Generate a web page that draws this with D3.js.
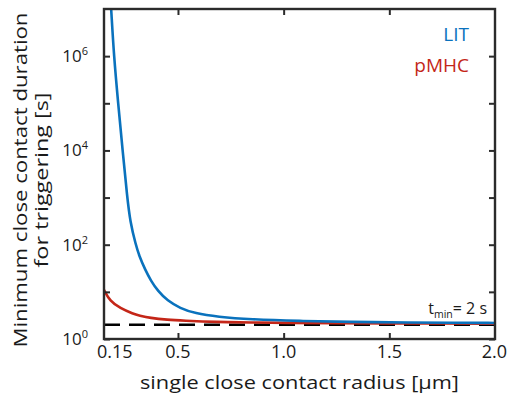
<!DOCTYPE html>
<html>
<head>
<meta charset="utf-8">
<script src="https://cdn.jsdelivr.net/npm/d3@7"></script>
<style>
  html, body { margin: 0; padding: 0; background: #fff; }
  svg text { font-family: "Open Sans", "DejaVu Sans", sans-serif; fill: #1a1a1a; }
</style>
</head>
<body>
<svg id="chart" width="512" height="413"></svg>
<script>
// Contact radius (µm) and minimum close-contact duration (s) for LIT
const radiusLIT = [0.181, 0.184, 0.197, 0.217, 0.238, 0.260, 0.2735, 0.300, 0.318, 0.344, 0.372, 0.405, 0.45, 0.51, 0.58, 0.689, 0.84, 1.077, 1.31, 1.6, 1.8, 2.0];
const durationLIT = [1.6e7, 1.0e7, 1.0e6, 1.0e5, 1.0e4, 1.0e3, 316, 100, 56, 30, 17.2, 10.4, 6.5, 4.5, 3.5, 2.95, 2.6, 2.41, 2.3, 2.24, 2.21, 2.19];

// Same quantity for pMHC
const radiusPMHC = [0.15, 0.178, 0.226, 0.289, 0.317, 0.368, 0.45, 0.524, 0.683, 0.85, 1.0, 1.25, 1.5, 1.75, 2.0];
const durationPMHC = [11, 6.4, 4.5, 3.4, 3.15, 2.79, 2.55, 2.45, 2.29, 2.24, 2.2, 2.17, 2.15, 2.13, 2.12];

// Lower bound on the duration
const tMin = 2;

const xTickValues = [0.15, 0.5, 1.0, 1.5, 2.0];
const xTickLabels = ["0.15", "0.5", "1.0", "1.5", "2.0"];
const yTickValues = [1, 1e1, 1e2, 1e3, 1e4, 1e5, 1e6];
const yLabelExponents = [0, 2, 4, 6];

const seriesNames = ["LIT", "pMHC"];
const seriesColors = ["#0a72bd", "#c42618"];

const svg = d3.select("#chart");
const m = { left: 104, right: 495, top: 9, bottom: 339 };

const x = d3.scaleLinear().domain([0.15, 2.0]).range([m.left, m.right]);
const y = d3.scaleLog().domain([1, 1e7]).range([m.bottom, m.top]);

svg.append("defs").append("clipPath").attr("id", "plotClip")
  .append("rect").attr("x", m.left).attr("y", m.top)
  .attr("width", m.right - m.left).attr("height", m.bottom - m.top);

const plot = svg.append("g").attr("clip-path", "url(#plotClip)");

// t_min reference line
plot.append("line")
  .attr("x1", x(0.15)).attr("x2", x(2.0))
  .attr("y1", y(tMin)).attr("y2", y(tMin))
  .attr("stroke", "#000").attr("stroke-width", 2.6)
  .attr("stroke-dasharray", "16,9");

const line = d3.line()
  .x(d => x(d[0])).y(d => y(d[1]))
  .curve(d3.curveBasis);

const pmhcPts = radiusPMHC.map((r, i) => [r, durationPMHC[i]]);
const litPts = radiusLIT.map((r, i) => [r, durationLIT[i]]);

plot.append("path").datum(pmhcPts).attr("d", line)
  .attr("fill", "none").attr("stroke", seriesColors[1]).attr("stroke-width", 2.6);
plot.append("path").datum(litPts).attr("d", line)
  .attr("fill", "none").attr("stroke", seriesColors[0]).attr("stroke-width", 2.6);

// Axes box with inward ticks on all four sides
const axisColor = "#2b2b2b";
const tickLen = 6;
const xInner = xTickValues.slice(1, -1);

const bottomAxis = d3.axisBottom(x).tickValues(xInner).tickSize(-tickLen).tickFormat("");
const topAxis = d3.axisTop(x).tickValues(xInner).tickSize(-tickLen).tickFormat("");
const leftAxis = d3.axisLeft(y).tickValues(yTickValues).tickSize(-tickLen).tickFormat("");
const rightAxis = d3.axisRight(y).tickValues(yTickValues).tickSize(-tickLen).tickFormat("");

[[bottomAxis, `translate(0,${m.bottom})`], [topAxis, `translate(0,${m.top})`],
 [leftAxis, `translate(${m.left},0)`], [rightAxis, `translate(${m.right},0)`]].forEach(([ax, tr]) => {
  const g = svg.append("g").attr("transform", tr).call(ax);
  g.select(".domain").remove();
  g.selectAll(".tick line").attr("stroke", axisColor).attr("stroke-width", 2);
});

svg.append("rect")
  .attr("x", m.left).attr("y", m.top)
  .attr("width", m.right - m.left).attr("height", m.bottom - m.top)
  .attr("fill", "none").attr("stroke", axisColor).attr("stroke-width", 2.4);

// X tick labels
svg.append("g").selectAll("text").data(xTickValues).join("text")
  .attr("x", d => x(d))
  .attr("y", 358)
  .attr("text-anchor", (d, i) => i === 0 ? "start" : (i === xTickValues.length - 1 ? "end" : "middle"))
  .attr("dx", (d, i) => i === 0 ? -7 : (i === xTickValues.length - 1 ? 12 : 0))
  .attr("font-size", 18)
  .text((d, i) => xTickLabels[i]);

// Y tick labels as powers of ten
const yLab = svg.append("g").selectAll("text").data(yLabelExponents).join("text")
  .attr("x", 88)
  .attr("y", d => y(Math.pow(10, d)) + 6)
  .attr("text-anchor", "end")
  .attr("font-size", 17);
yLab.append("tspan").text("10");
yLab.append("tspan").attr("font-size", 11).attr("dy", -7).text(d => d);

// Axis titles
svg.append("text")
  .attr("x", (m.left + m.right) / 2).attr("y", 389)
  .attr("text-anchor", "middle").attr("font-size", 18.5)
  .attr("textLength", 319).attr("lengthAdjust", "spacingAndGlyphs")
  .text("single close contact radius [µm]");

const yTitle = svg.append("g").attr("transform", "translate(27,180) rotate(-90)");
yTitle.append("text").attr("x", 0).attr("y", 0)
  .attr("text-anchor", "middle").attr("font-size", 18.5)
  .attr("textLength", 335).attr("lengthAdjust", "spacingAndGlyphs")
  .text("Minimum close contact duration");
yTitle.append("text").attr("x", 0).attr("y", 21)
  .attr("text-anchor", "middle").attr("font-size", 18.5)
  .attr("textLength", 175).attr("lengthAdjust", "spacingAndGlyphs")
  .text("for triggering [s]");

// Legend labels
svg.append("g").selectAll("text").data(seriesNames).join("text")
  .attr("x", 469).attr("y", (d, i) => 41 + i * 31)
  .attr("text-anchor", "end").attr("font-size", 19)
  .style("fill", (d, i) => seriesColors[i])
  .text(d => d);

// t_min annotation
const ann = svg.append("text")
  .attr("x", 487).attr("y", 314)
  .attr("text-anchor", "end").attr("font-size", 16);
ann.append("tspan").text("t");
ann.append("tspan").attr("font-size", 10.5).attr("dy", 4).text("min");
ann.append("tspan").attr("dy", -4).text("= " + tMin + " s");
</script>
</body>
</html>
